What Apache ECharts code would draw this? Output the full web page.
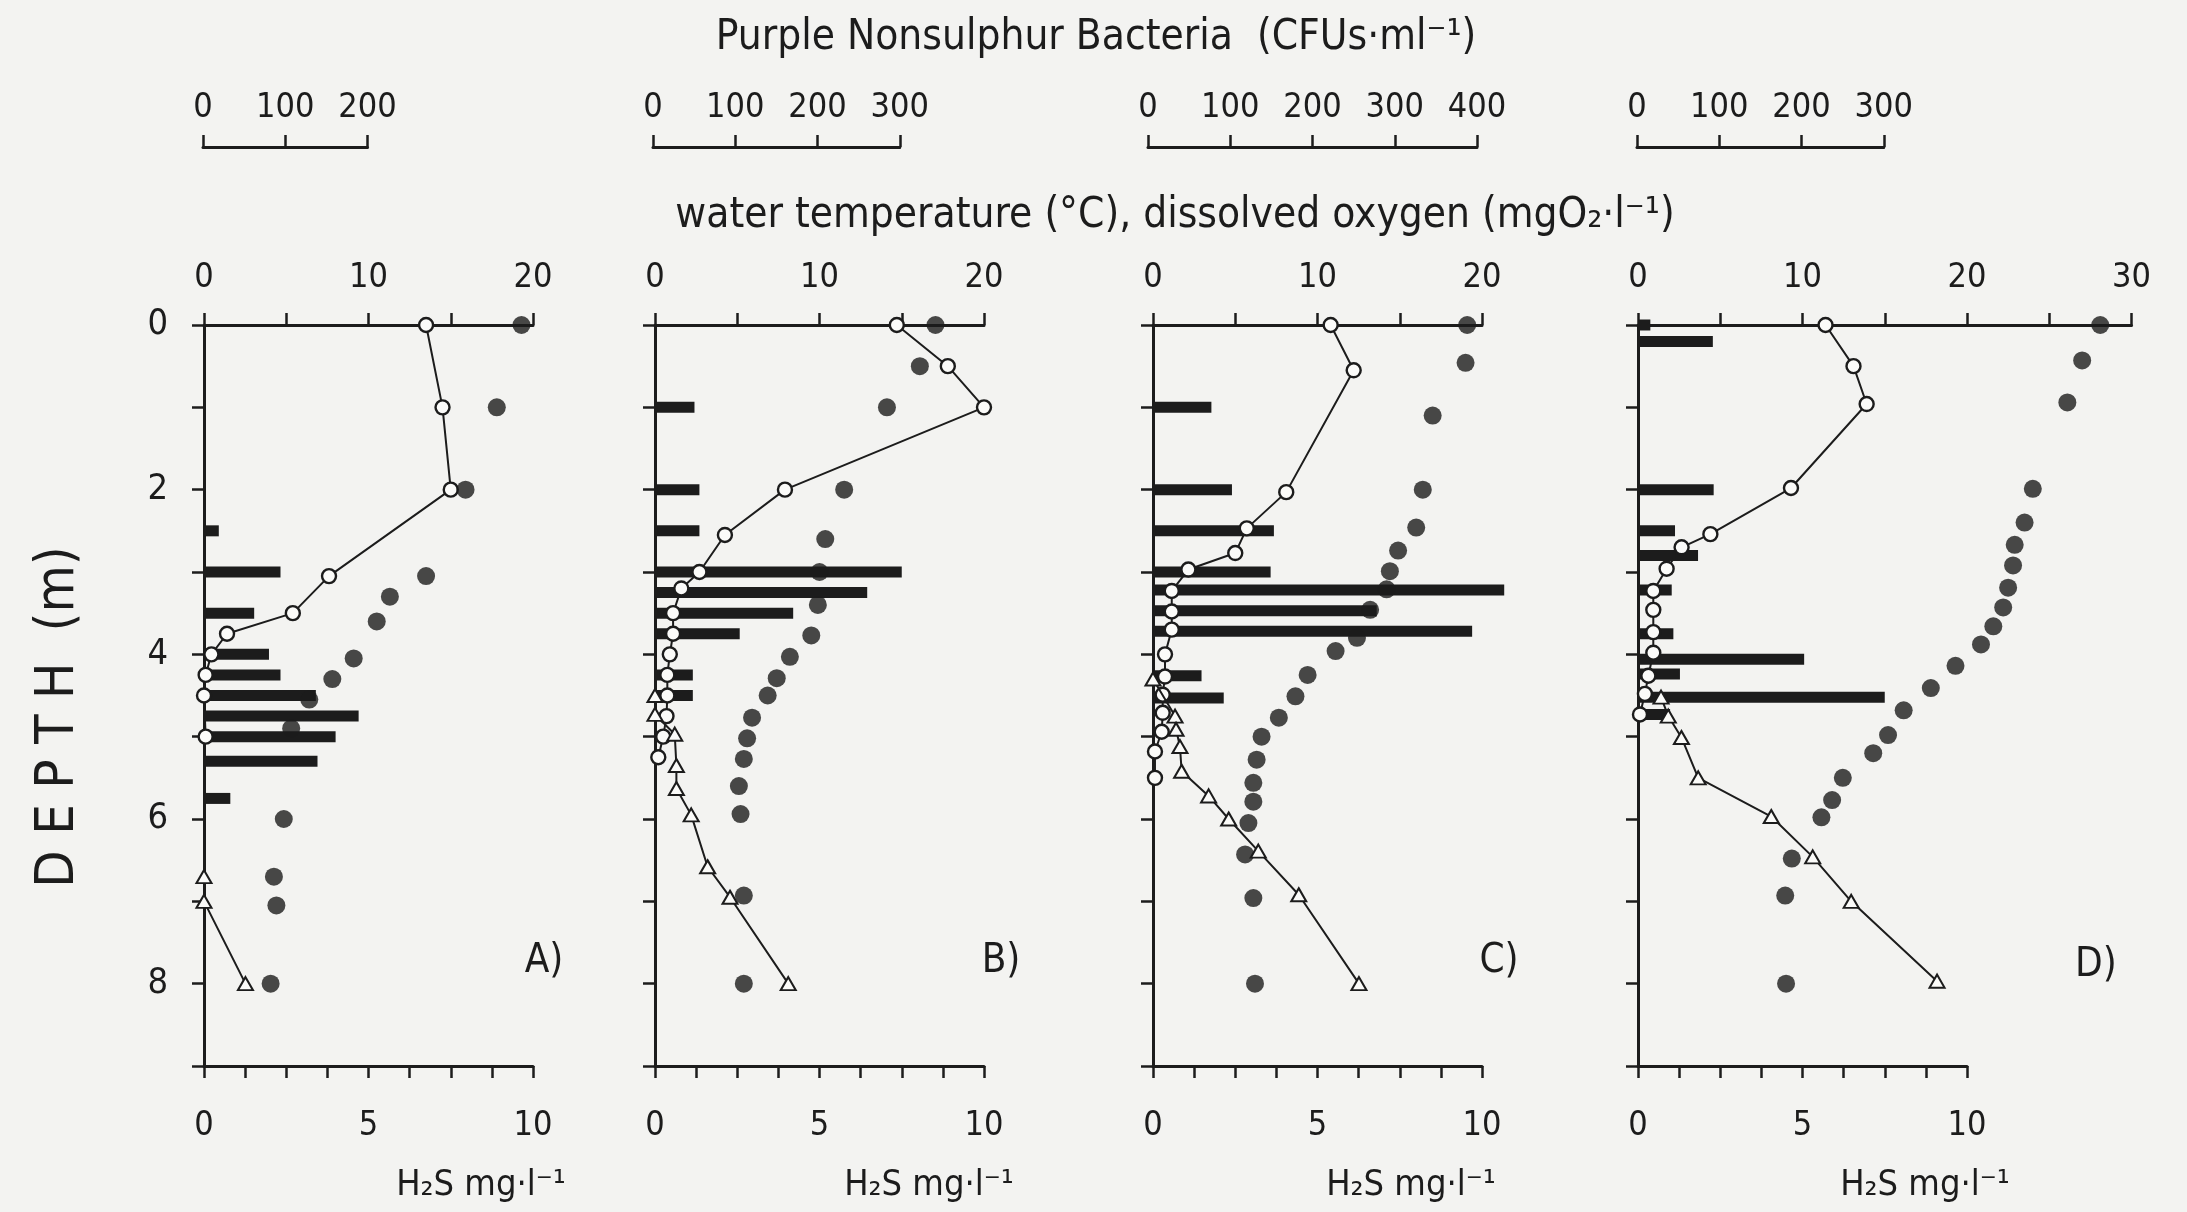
<!DOCTYPE html>
<html><head><meta charset="utf-8">
<script src="https://cdn.jsdelivr.net/npm/echarts@6/dist/echarts.min.js"></script>
<style>html,body{margin:0;padding:0;background:#f3f3f1;}#c{width:2187px;height:1212px;}</style>
</head><body><div id="c"></div>
<script>
// ---------------- DATA ----------------
// pairs are [depth (m), value]
const panelLetters = ['A)', 'B)', 'C)', 'D)'];
const tempAxisMax = [20, 20, 20, 30];          // water temperature / O2 axis max
const bacteriaScaleMax = [200, 300, 400, 300]; // CFU scale bar length
const depthTickLabels = [0, 2, 4, 6, 8];
const h2sTickLabels = [0, 5, 10];
const tempTickLabels = [0, 10, 20, 30];
const bacteriaTickLabels = [0, 100, 200, 300, 400];

// Panel A
const bacteriaA = [[2.5,18],[3,93],[3.5,61],[4,79],[4.25,93],[4.5,136],[4.75,188],[5,160],[5.3,138],[5.75,32]];
const oxygenA = [[0,13.5],[1,14.5],[2,15.0],[3.05,7.6],[3.5,5.4],[3.75,1.4],[4,0.45],[4.25,0.1],[4.5,0],[5,0.1]];
const temperatureA = [[0,19.3],[1,17.8],[2,15.9],[3.05,13.5],[3.3,11.3],[3.6,10.5],[4.05,9.1],[4.3,7.8],[4.55,6.4],[4.9,5.3],[6,4.85],[6.7,4.25],[7.05,4.4],[8,4.05]];
const sulfideA = [[6.7,0],[7,0],[8,1.26]];

// Panel B
const bacteriaB = [[1,48],[2,54],[2.5,54],[3,300],[3.25,258],[3.5,168],[3.75,103],[4.25,46],[4.5,46]];
const oxygenB = [[0,14.7],[0.5,17.8],[1,20.0],[2,7.9],[2.55,4.25],[3,2.7],[3.2,1.6],[3.5,1.1],[3.75,1.1],[4,0.9],[4.25,0.75],[4.5,0.75],[4.75,0.7],[5,0.5],[5.25,0.2]];
const temperatureB = [[0,17.05],[0.5,16.1],[1,14.1],[2,11.5],[2.6,10.35],[3,10.0],[3.4,9.9],[3.77,9.5],[4.03,8.2],[4.29,7.4],[4.5,6.85],[4.77,5.9],[5.02,5.6],[5.27,5.4],[5.6,5.1],[5.94,5.2],[6.93,5.4],[8,5.4]];
const sulfideB = [[4.5,0],[4.73,0],[4.97,0.6],[5.35,0.65],[5.63,0.65],[5.95,1.1],[6.58,1.6],[6.95,2.28],[8,4.05]];

// Panel C
const bacteriaC = [[1,71],[2,96],[2.5,147],[3,143],[3.22,427],[3.47,272],[3.72,388],[4.26,59],[4.53,86]];
const oxygenC = [[0,10.8],[0.55,12.2],[2.03,8.1],[2.47,5.7],[2.77,5.0],[2.97,2.15],[3.23,1.14],[3.48,1.14],[3.7,1.14],[4,0.73],[4.27,0.73],[4.49,0.59],[4.71,0.59],[4.94,0.53],[5.18,0.12],[5.5,0.12]];
const temperatureC = [[0,19.1],[0.46,19.0],[1.1,17.0],[2,16.4],[2.46,16.0],[2.74,14.9],[2.99,14.4],[3.21,14.2],[3.46,13.2],[3.8,12.4],[3.96,11.1],[4.25,9.4],[4.51,8.66],[4.77,7.65],[5,6.6],[5.28,6.3],[5.56,6.1],[5.79,6.1],[6.05,5.8],[6.43,5.6],[6.96,6.1],[8,6.2]];
const sulfideC = [[4.3,0],[4.75,0.67],[4.91,0.7],[5.12,0.82],[5.42,0.87],[5.72,1.69],[6,2.3],[6.39,3.2],[6.92,4.43],[8,6.26]];

// Panel D
const bacteriaD = [[0,15],[0.2,91],[2,92],[2.5,45],[2.8,73],[3.22,41],[3.75,43],[4.06,202],[4.24,51],[4.52,300],[4.73,39]];
const oxygenD = [[0,11.4],[0.5,13.1],[0.96,13.9],[1.98,9.3],[2.54,4.4],[2.7,2.65],[2.96,1.74],[3.23,0.93],[3.46,0.93],[3.73,0.93],[3.98,0.93],[4.26,0.63],[4.48,0.42],[4.73,0.12]];
const temperatureD = [[0,28.1],[0.43,27.0],[0.94,26.1],[1.99,24.0],[2.4,23.5],[2.67,22.9],[2.92,22.8],[3.19,22.5],[3.43,22.2],[3.66,21.6],[3.88,20.85],[4.14,19.3],[4.41,17.8],[4.68,16.15],[4.98,15.2],[5.2,14.3],[5.5,12.45],[5.77,11.8],[5.98,11.15],[6.48,9.35],[6.93,8.95],[8,9.0]];
const sulfideD = [[4.52,0.7],[4.75,0.92],[5.01,1.32],[5.5,1.83],[5.97,4.05],[6.46,5.31],[7,6.48],[7.97,9.09]];

const bacteria = [bacteriaA, bacteriaB, bacteriaC, bacteriaD];
const oxygen = [oxygenA, oxygenB, oxygenC, oxygenD];
const temperature = [temperatureA, temperatureB, temperatureC, temperatureD];
const sulfide = [sulfideA, sulfideB, sulfideC, sulfideD];

// ---------------- LAYOUT ----------------
const INK = '#1c1c1c', PAPER = '#f3f3f1', FILL = '#fbfbf9';
const FONT = '"DejaVu Sans Condensed", "DejaVu Sans", sans-serif';
const panelLeft = [204, 655, 1153, 1638];
const scaleLeft = [203, 653, 1148, 1637];
const TOP = 325, HEIGHT = 741, WIDTH = 329;
const PX_PER_T = WIDTH / 20, PX_PER_CFU = WIDTH / 400;
const AXW = 3;
const TICKFS = 34;

const grid = [], xAxis = [], yAxis = [], series = [];
const hide = {show: false};
const isIn = (arr, v) => arr.some(a => Math.abs(a - v) < 1e-6);

for (let p = 0; p < 4; p++) {
  const g0 = grid.length;
  grid.push({left: panelLeft[p], top: TOP, width: WIDTH, height: HEIGHT});
  grid.push({left: panelLeft[p], top: TOP, width: tempAxisMax[p] * PX_PER_T, height: HEIGHT});
  grid.push({left: scaleLeft[p], top: 147, width: bacteriaScaleMax[p] * PX_PER_CFU, height: 1});
  const x0 = xAxis.length, y0 = yAxis.length;
  // H2S bottom axis
  xAxis.push({type: 'value', gridIndex: g0, position: 'bottom', min: 0, max: 10, interval: 1.25,
    axisLine: {onZero: false, lineStyle: {color: INK, width: AXW}},
    axisTick: {length: 12, lineStyle: {color: INK, width: 2.5}},
    splitLine: hide,
    axisLabel: {margin: 43, fontSize: TICKFS, fontFamily: FONT, color: INK, showMinLabel: true, showMaxLabel: true,
      formatter: v => isIn(h2sTickLabels, v) ? String(v) : ''}});
  // hidden CFU axis for bars
  xAxis.push({type: 'value', gridIndex: g0, min: 0, max: 400, show: false});
  // temperature / O2 top axis
  xAxis.push({type: 'value', gridIndex: g0 + 1, position: 'top', min: 0, max: tempAxisMax[p], interval: 5,
    axisLine: {onZero: false, lineStyle: {color: INK, width: AXW}},
    axisTick: {length: 12, lineStyle: {color: INK, width: 2.5}},
    splitLine: hide,
    axisLabel: {margin: 30, fontSize: TICKFS, fontFamily: FONT, color: INK, showMinLabel: true, showMaxLabel: true,
      formatter: v => isIn(tempTickLabels, v) ? String(v) : ''}});
  // bacteria scale bar
  xAxis.push({type: 'value', gridIndex: g0 + 2, position: 'top', min: 0, max: bacteriaScaleMax[p], interval: 100,
    axisLine: {onZero: false, lineStyle: {color: INK, width: AXW}},
    axisTick: {length: 12, lineStyle: {color: INK, width: 2.5}},
    splitLine: hide,
    axisLabel: {margin: 22, fontSize: TICKFS, fontFamily: FONT, color: INK, showMinLabel: true, showMaxLabel: true,
      formatter: v => isIn(bacteriaTickLabels, v) ? String(v) : ''}});
  // depth axis
  yAxis.push({type: 'value', gridIndex: g0, inverse: true, min: 0, max: 9, interval: 1,
    axisLine: {show: true, onZero: false, lineStyle: {color: INK, width: AXW}},
    axisTick: {show: true, length: 12, lineStyle: {color: INK, width: 2.5}},
    splitLine: hide,
    axisLabel: {show: p === 0, margin: 36, fontSize: 36, fontFamily: FONT, color: INK,
      formatter: v => isIn(depthTickLabels, v) ? String(v) : ''}});
  yAxis.push({type: 'value', gridIndex: g0 + 1, inverse: true, min: 0, max: 9, show: false});
  yAxis.push({type: 'value', gridIndex: g0 + 2, min: 0, max: 1, show: false});

  series.push({type: 'custom', xAxisIndex: x0 + 1, yAxisIndex: y0, clip: false, z: 2,
    encode: {x: 0, y: 1},
    data: bacteria[p].map(d => [d[1], d[0]]),
    renderItem: (params, api) => {
      const dep = api.value(1), v = api.value(0);
      const a = api.coord([0, dep]), b = api.coord([v, dep]);
      const h = 11;
      return {type: 'rect', shape: {x: a[0], y: a[1] - h / 2, width: b[0] - a[0], height: h}, style: {fill: INK}};
    }});
  series.push({type: 'line', xAxisIndex: x0 + 2, yAxisIndex: y0 + 1, z: 3,
    data: oxygen[p].map(d => [d[1], d[0]]),
    symbol: 'circle', symbolSize: 14, showAllSymbol: true,
    lineStyle: {color: INK, width: 2}, itemStyle: {color: FILL, borderColor: INK, borderWidth: 2.4}});
  series.push({type: 'scatter', xAxisIndex: x0 + 2, yAxisIndex: y0 + 1, z: 4,
    data: temperature[p].map(d => [d[1], d[0]]),
    symbol: 'circle', symbolSize: 18, itemStyle: {color: INK}});
  series.push({type: 'line', xAxisIndex: x0, yAxisIndex: y0, z: 5,
    data: sulfide[p].map(d => [d[1], d[0]]),
    symbol: 'triangle', symbolSize: [15, 13], showAllSymbol: true,
    lineStyle: {color: INK, width: 2}, itemStyle: {color: FILL, borderColor: INK, borderWidth: 2}});
}

const txt = (text, x, y, size, extra) => Object.assign({type: 'text', x, y, z: 10,
  style: {text, fill: INK, font: size + 'px ' + FONT, align: 'center', verticalAlign: 'middle'}}, extra || {});
const h2sLabelX = [481, 929, 1411, 1925];
const letterPos = [[544, 962], [1001, 962], [1499, 962], [2096, 966]];
const graphic = [
  txt('Purple Nonsulphur Bacteria  (CFUs·ml⁻¹)', 1096, 38, 42),
  txt('water temperature (°C), dissolved oxygen (mgO₂·l⁻¹)', 1175, 216, 42),
  txt('D E P T H  (m)', 59, 717, 54, {rotation: Math.PI / 2})
];
for (let p = 0; p < 4; p++) {
  graphic.push(txt('H₂S mg·l⁻¹', h2sLabelX[p], 1186, 36));
  graphic.push(txt(panelLetters[p], letterPos[p][0], letterPos[p][1], 40));
}

const chart = echarts.init(document.getElementById('c'), null, {renderer: 'canvas'});
chart.setOption({backgroundColor: PAPER, animation: false, grid, xAxis, yAxis, series, graphic,
  tooltip: {show: false}});
</script></body></html>
